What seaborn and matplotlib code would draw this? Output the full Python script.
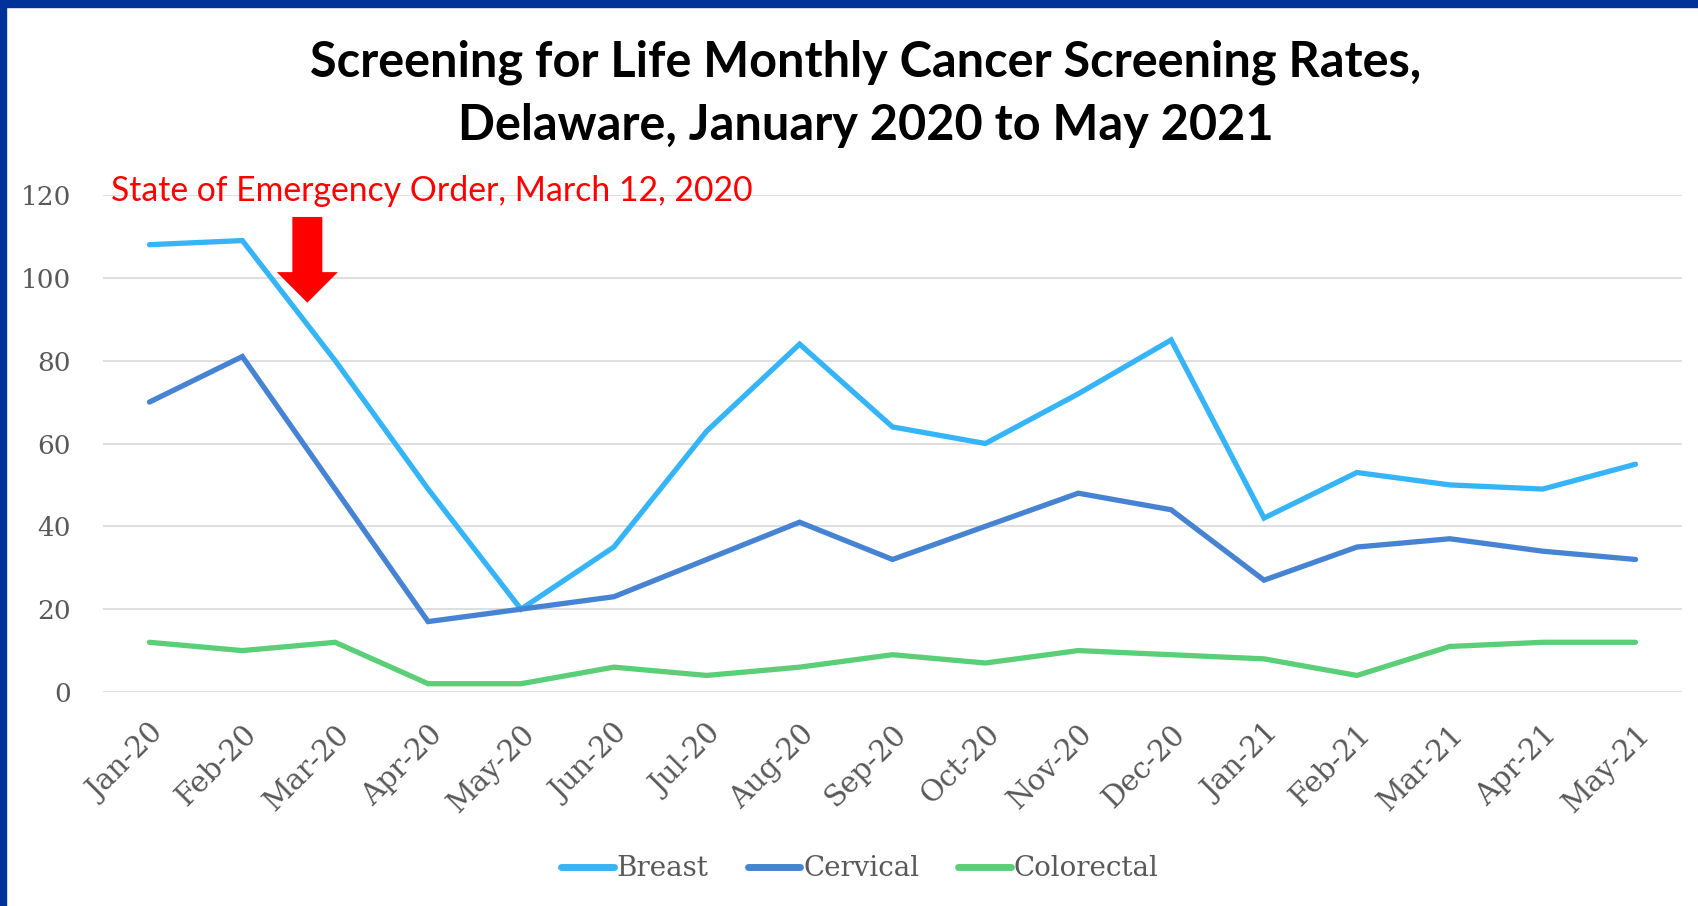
import pandas as pd
import seaborn as sns
import matplotlib.pyplot as plt
from matplotlib.patches import Rectangle

months = ["Jan-20", "Feb-20", "Mar-20", "Apr-20", "May-20", "Jun-20", "Jul-20",
          "Aug-20", "Sep-20", "Oct-20", "Nov-20", "Dec-20", "Jan-21", "Feb-21",
          "Mar-21", "Apr-21", "May-21"]
breast = [108, 109, 80, 49, 20, 35, 63, 84, 64, 60, 72, 85, 42, 53, 50, 49, 55]
cervical = [70, 81, 49, 17, 20, 23, 32, 41, 32, 40, 48, 44, 27, 35, 37, 34, 32]
colorectal = [12, 10, 12, 2, 2, 6, 4, 6, 9, 7, 10, 9, 8, 4, 11, 12, 12]
y_ticks = [0, 20, 40, 60, 80, 100, 120]

series = {"Breast": breast, "Cervical": cervical, "Colorectal": colorectal}
colors = {"Breast": "#36B4F8", "Cervical": "#4683D2", "Colorectal": "#5ACF78"}

rows = []
for name, vals in series.items():
    for i, v in enumerate(vals):
        rows.append({"pos": i, "value": v, "type": name})
df = pd.DataFrame(rows)

sns.set_style("white")
fig = plt.figure(figsize=(16.98, 9.06), dpi=100)
ax = fig.add_axes([103 / 1698, 1 - 692 / 906, 1579 / 1698, 497 / 906])

sns.lineplot(data=df, x="pos", y="value", hue="type", palette=colors,
             linewidth=3.8, sort=False, ax=ax, legend=False, zorder=3)
for line in ax.lines:
    line.set_solid_capstyle("round")
    line.set_solid_joinstyle("miter")

ax.set_xlim(-0.5, len(months) - 0.5)
ax.set_ylim(0, 120)
ax.set_yticks(y_ticks)
ax.set_xticks(range(len(months)))
ax.set_xticklabels(months, rotation=45, ha="right", rotation_mode="anchor")
ax.yaxis.grid(True, color="#d9d9d9", linewidth=1.2, zorder=0)
ax.xaxis.grid(False)
for s in ax.spines.values():
    s.set_visible(False)
ax.tick_params(axis="both", length=0, labelcolor="#595959")
ax.tick_params(axis="y", pad=23, labelsize=19)
ax.tick_params(axis="x", pad=20, labelsize=21)
for lab in ax.get_xticklabels() + ax.get_yticklabels():
    lab.set_family("DejaVu Serif")
ax.set_xlabel("")
ax.set_ylabel("")

# title
fig.text(866 / 1698, 1 - 62 / 906,
         "Screening for Life Monthly Cancer Screening Rates,",
         ha="center", va="center", fontsize=35, fontweight="bold",
         family="Lato", color="black")
fig.text(866 / 1698, 1 - 125 / 906,
         "Delaware, January 2020 to May 2021",
         ha="center", va="center", fontsize=35, fontweight="bold",
         family="Lato", color="black")

# emergency annotation
fig.text(111 / 1698, 1 - 191 / 906, "State of Emergency Order, March 12, 2020",
         ha="left", va="center", fontsize=24.3, color="red", family="Lato")
ax.annotate("", xy=(1.70, 94), xytext=(1.70, 114.7),
            arrowprops=dict(facecolor="red", edgecolor="none", width=21.6,
                            headwidth=44, headlength=22, shrink=0),
            zorder=5, annotation_clip=False)

# legend
handles = [plt.Line2D([0], [0], color=colors[n], linewidth=5,
                      solid_capstyle="round") for n in series]
leg = fig.legend(handles, list(series.keys()), loc="center",
                 bbox_to_anchor=(860 / 1698, 1 - 869 / 906), ncol=3,
                 frameon=False, handlelength=1.9, handletextpad=0.1,
                 columnspacing=1.4, prop={"family": "DejaVu Serif", "size": 20})
for t in leg.get_texts():
    t.set_color("#595959")

# slide border
fig.add_artist(Rectangle((0, 0), 6 / 1698, 1, transform=fig.transFigure,
                         color="#003399", zorder=10))
fig.add_artist(Rectangle((0, 1 - 7 / 906), 1, 7 / 906, transform=fig.transFigure,
                         color="#003399", zorder=10))

fig.savefig("out.png", dpi=100)
